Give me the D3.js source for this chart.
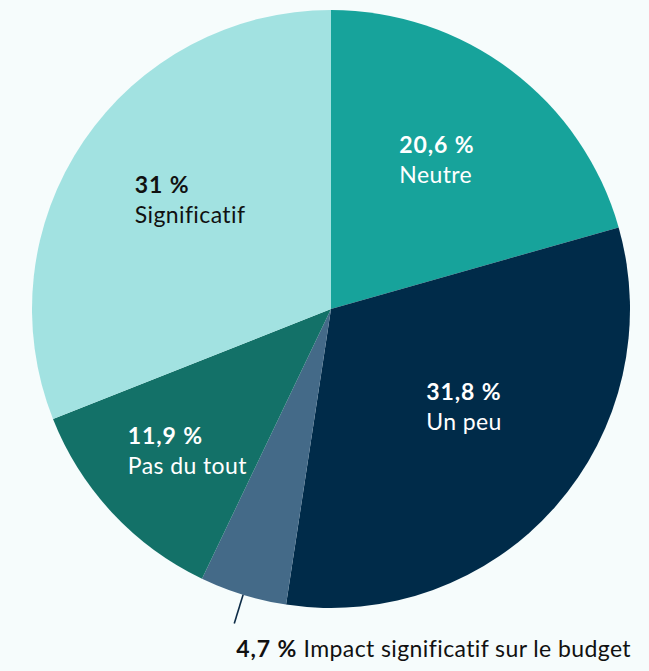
<!DOCTYPE html>
<html lang="fr">
<head>
<meta charset="utf-8">
<script src="https://cdn.jsdelivr.net/npm/d3@7"></script>
<style>
  html, body { margin: 0; padding: 0; background: #f6fcfc; }
  svg { display: block; }
  text { font-family: Lato, "Noto Sans", sans-serif; font-variant-ligatures: none; }
</style>
</head>
<body>
<svg id="chart" width="649" height="671"></svg>
<script>
// Slices, clockwise from 12 o'clock
const categories = ["Neutre", "Un peu", "Impact significatif sur le budget", "Pas du tout", "Significatif"];
const values = [20.6, 31.8, 4.7, 11.9, 31];
const valueLabels = ["20,6 %", "31,8 %", "4,7 %", "11,9 %", "31 %"];
const colors = ["#17a39b", "#002b49", "#446a88", "#137168", "#a2e2e1"];
const textColors = ["#ffffff", "#ffffff", "#111111", "#ffffff", "#111111"];

const W = 649, H = 671;
const cx = 331, cy = 309, R = 299;

// inner label placement: distance from centre and small angular nudge (radians)
const labelRadius = [183, 165, null, 202, 178];
const labelNudge = [-0.03, -0.09, 0, -0.03, 0.06];

const svg = d3.select("#chart");
const g = svg.append("g").attr("transform", `translate(${cx},${cy})`);

const data = categories.map((c, i) => ({ cat: c, value: values[i], label: valueLabels[i], i }));

const pie = d3.pie().value(d => d.value).sort(null);
const arcs = pie(data);
const arc = d3.arc().innerRadius(0).outerRadius(R);

g.selectAll("path.slice")
  .data(arcs)
  .join("path")
  .attr("class", "slice")
  .attr("d", arc)
  .attr("fill", d => colors[d.data.i]);

const fs = 23, lineGap = 30;
const lsReg = 0.4, lsBold = 0.9;

// labels inside slices: bold value above, category below, left-aligned block
arcs.forEach(a => {
  const i = a.data.i;
  if (labelRadius[i] == null) return;
  const mid = (a.startAngle + a.endAngle) / 2 + labelNudge[i];
  const px = labelRadius[i] * Math.sin(mid);
  const py = -labelRadius[i] * Math.cos(mid);
  const block = g.append("g");
  const t1 = block.append("text")
    .attr("font-size", fs).attr("font-weight", 700)
    .attr("letter-spacing", lsBold)
    .attr("fill", textColors[i]).text(a.data.label);
  const t2 = block.append("text")
    .attr("y", lineGap)
    .attr("font-size", fs).attr("font-weight", 400)
    .attr("letter-spacing", lsReg)
    .attr("fill", textColors[i]).text(a.data.cat);
  const w = Math.max(t1.node().getBBox().width, t2.node().getBBox().width);
  block.attr("transform", `translate(${px - w / 2},${py - lineGap / 2 + 8})`);
});

// small slice: radial leader line with label below the pie
const small = arcs[2];
const smid = (small.startAngle + small.endAngle) / 2;
const r0 = R, r1 = R + 30;
const lx0 = r0 * Math.sin(smid), ly0 = -r0 * Math.cos(smid);
const lx1 = r1 * Math.sin(smid), ly1 = -r1 * Math.cos(smid);
g.append("line")
  .attr("x1", lx0).attr("y1", ly0)
  .attr("x2", lx1).attr("y2", ly1)
  .attr("stroke", "#0d2c47").attr("stroke-width", 1.6);

const extLabel = g.append("text")
  .attr("x", lx1 + 2)
  .attr("y", ly1 + 34)
  .attr("font-size", fs)
  .attr("fill", textColors[2]);
extLabel.append("tspan").attr("font-weight", 700).attr("letter-spacing", lsBold).text(small.data.label);
extLabel.append("tspan").attr("font-weight", 400).attr("letter-spacing", lsReg).text(" " + small.data.cat);
</script>
</body>
</html>
